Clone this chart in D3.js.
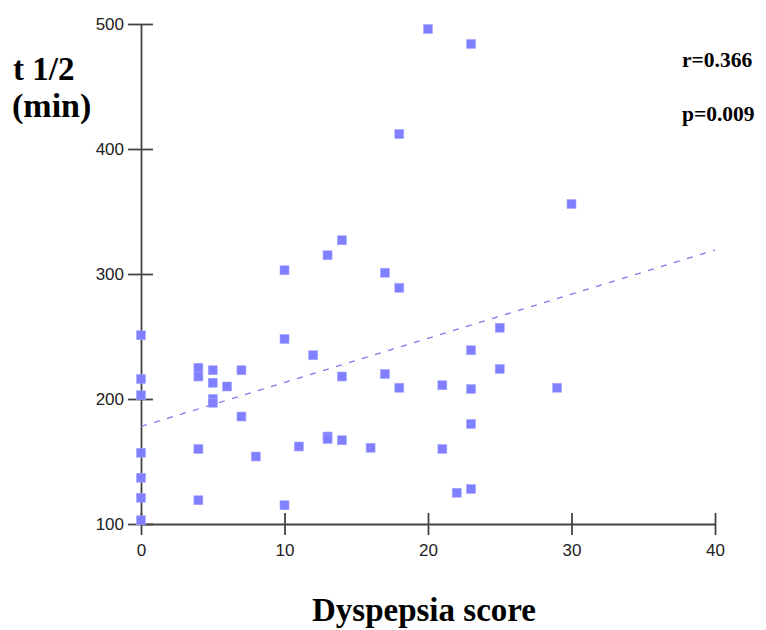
<!DOCTYPE html>
<html>
<head>
<meta charset="utf-8">
<script src="https://cdn.jsdelivr.net/npm/d3@7"></script>
<style>
  body { margin: 0; background: #fff; }
</style>
</head>
<body>
<div class="chart"></div>
<script>
// dyspepsia score vs t 1/2 (min)
var scores = [0, 0, 0, 0, 0, 0, 0,
              4, 4, 4, 4,
              5, 5, 5, 5,
              6, 7, 7, 8,
              10, 10, 10, 11, 12,
              13, 13, 13, 14, 14, 14,
              16, 17, 17, 18, 18, 18,
              20, 21, 21, 22,
              23, 23, 23, 23, 23,
              25, 25, 29, 30]
var halfTimes = [251, 216, 203, 157, 137, 121, 103,
                 225, 218, 160, 119,
                 223, 213, 200, 197,
                 210, 223, 186, 154,
                 303, 248, 115, 162, 235,
                 315, 170, 168, 327, 218, 167,
                 161, 301, 220, 412, 289, 209,
                 496, 211, 160, 125,
                 484, 239, 208, 180, 128,
                 257, 224, 209, 356]
var xTicks = [0, 10, 20, 30, 40]
var yTicks = [100, 200, 300, 400, 500]
var fitLine = [178, 3.53] // intercept, slope
var stats = ["r=0.366", "p=0.009"]

var svg = d3.select(".chart")
  .append("svg")
  .attr("width", 766)
  .attr("height", 630)

var x = d3.scaleLinear().domain([0, 40]).range([141, 715])
var y = d3.scaleLinear().domain([100, 500]).range([524, 24])

// x axis
var xAxis = svg.append("g")
  .attr("transform", "translate(0,524)")
  .call(d3.axisBottom(x).tickValues(xTicks).tickSize(11).tickPadding(9).tickSizeOuter(0))
xAxis.selectAll(".tick line").attr("y1", -11)

// y axis
var yAxis = svg.append("g")
  .attr("transform", "translate(141,0)")
  .call(d3.axisLeft(y).tickValues(yTicks).tickSize(13).tickPadding(4).tickSizeOuter(0))
yAxis.selectAll(".tick line").attr("x1", 12)

svg.selectAll(".domain, .tick line")
  .style("stroke", "#444")
  .style("stroke-width", 1.8)

svg.selectAll(".tick text")
  .style("font-size", "17px")
  .attr("font-family", "Liberation Sans, Arial, sans-serif")
  .attr("fill", "#222")

// regression line
svg.append("line")
  .attr("x1", x(0))
  .attr("y1", y(fitLine[0]))
  .attr("x2", x(40))
  .attr("y2", y(fitLine[0] + fitLine[1] * 40))
  .style("stroke", "#7878f0")
  .style("stroke-width", 1.3)
  .style("stroke-dasharray", "6,7.6")

// points
scores.forEach((d, i) => {
  svg.append("rect")
    .attr("x", x(d) - 4.5)
    .attr("y", y(halfTimes[i]) - 4.5)
    .attr("width", 9)
    .attr("height", 9)
    .style("fill", "#7f7fff")
    .style("stroke", "#a8a8ff")
    .style("stroke-width", 0.6)
})

// labels
svg.append("text")
  .attr("x", 13)
  .attr("y", 80)
  .text("t 1/2")
  .style("font-size", "33px")
  .attr("font-family", "Liberation Serif, Times New Roman, serif")
  .attr("font-weight", "bold")

svg.append("text")
  .attr("x", 12)
  .attr("y", 117)
  .text("(min)")
  .style("font-size", "34px")
  .attr("font-family", "Liberation Serif, Times New Roman, serif")
  .attr("font-weight", "bold")

svg.append("text")
  .attr("x", 424)
  .attr("y", 621)
  .attr("text-anchor", "middle")
  .text("Dyspepsia score")
  .style("font-size", "33px")
  .attr("font-family", "Liberation Serif, Times New Roman, serif")
  .attr("font-weight", "bold")

stats.forEach((s, i) => {
  svg.append("text")
    .attr("x", 682)
    .attr("y", 67 + i * 54)
    .text(s)
    .style("font-size", "21.5px")
    .attr("font-family", "Liberation Serif, Times New Roman, serif")
    .attr("font-weight", "bold")
})
</script>
</body>
</html>
